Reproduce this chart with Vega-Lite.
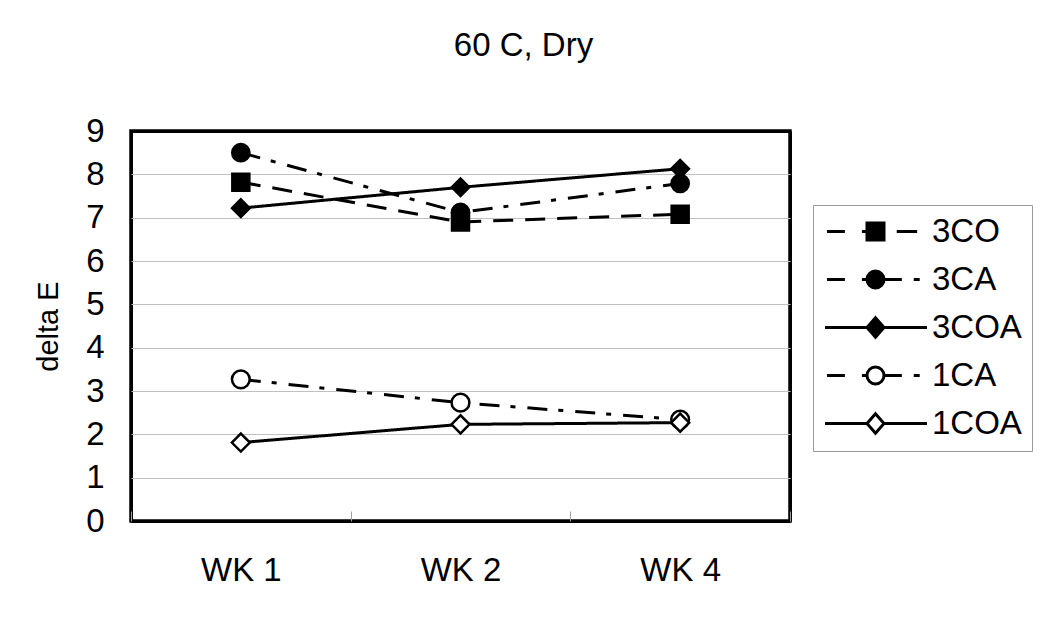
{
  "$schema": "https://vega.github.io/schema/vega-lite/v6.json",
  "width": 659,
  "height": 390,
  "autosize": {"type": "none"},
  "padding": {"left": 131, "top": 131, "right": 260, "bottom": 104},
  "background": "white",
  "title": {"text": "60 C, Dry", "fontSize": 33, "fontWeight": "normal", "color": "black", "anchor": "middle", "frame": "group", "dx": 63, "offset": 52},
  "data": {"values": [
    {"series": "3CO", "week": "WK 1", "value": 7.82},
    {"series": "3CO", "week": "WK 2", "value": 6.90},
    {"series": "3CO", "week": "WK 4", "value": 7.08},
    {"series": "3CA", "week": "WK 1", "value": 8.50},
    {"series": "3CA", "week": "WK 2", "value": 7.12},
    {"series": "3CA", "week": "WK 4", "value": 7.79},
    {"series": "3COA", "week": "WK 1", "value": 7.22},
    {"series": "3COA", "week": "WK 2", "value": 7.70},
    {"series": "3COA", "week": "WK 4", "value": 8.13},
    {"series": "1CA", "week": "WK 1", "value": 3.27},
    {"series": "1CA", "week": "WK 2", "value": 2.73},
    {"series": "1CA", "week": "WK 4", "value": 2.34},
    {"series": "1COA", "week": "WK 1", "value": 1.81},
    {"series": "1COA", "week": "WK 2", "value": 2.23},
    {"series": "1COA", "week": "WK 4", "value": 2.27}
  ]},
  "encoding": {
    "x": {
      "field": "week", "type": "nominal", "sort": ["WK 1", "WK 2", "WK 4"],
      "scale": {"type": "band", "paddingInner": 0, "paddingOuter": 0},
      "axis": {"title": null, "labelFontSize": 33, "labelColor": "black", "labelPadding": 43, "labelAngle": 0, "domain": false, "ticks": true, "tickBand": "extent", "tickSize": -10, "tickColor": "#a0a0a0", "tickWidth": 1,
        "grid": true,
        "gridColor": {"condition": {"test": "datum.value == 'WK 1' || datum.value == 'WK 2'", "value": "transparent"}, "value": "black"},
        "gridWidth": 3}
    },
    "y": {
      "field": "value", "type": "quantitative",
      "scale": {"domain": [0, 9], "nice": false},
      "axis": {"title": "delta E", "titleFontSize": 29, "titleFontWeight": "normal", "titleColor": "black", "titlePadding": 22, "labelFontSize": 33, "labelColor": "black", "labelPadding": 27, "ticks": false, "domain": false, "grid": true,
        "gridColor": {"condition": {"test": "datum.value == 0 || datum.value == 9", "value": "black"}, "value": "#c0c0c0"},
        "gridWidth": {"condition": {"test": "datum.value == 0 || datum.value == 9", "value": 3}, "value": 1},
        "values": [0, 1, 2, 3, 4, 5, 6, 7, 8, 9]}
    }
  },
  "layer": [
    {
      "mark": {"type": "line", "color": "black", "strokeWidth": 3},
      "encoding": {
        "strokeDash": {"field": "series", "type": "nominal", "legend": null,
          "scale": {"domain": ["3CO", "3CA", "3COA", "1CA", "1COA"], "range": [[20, 12], [20, 11, 5, 12], [1, 0], [20, 11, 5, 12], [1, 0]]}}
      }
    },
    {
      "mark": {"type": "point", "stroke": "black", "strokeWidth": 2.5, "opacity": 1, "fillOpacity": 1},
      "encoding": {
        "shape": {"field": "series", "type": "nominal", "legend": null,
          "scale": {"domain": ["3CO", "3CA", "3COA", "1CA", "1COA"], "range": ["square", "circle", "diamond", "circle", "diamond"]}},
        "fill": {"field": "series", "type": "nominal", "legend": null,
          "scale": {"domain": ["3CO", "3CA", "3COA", "1CA", "1COA"], "range": ["black", "black", "black", "white", "white"]}},
        "size": {"field": "series", "type": "nominal", "legend": null,
          "scale": {"domain": ["3CO", "3CA", "3COA", "1CA", "1COA"], "range": [289, 324, 324, 210, 210]}}
      }
    },
    {
      "mark": {"type": "point", "stroke": "black", "strokeWidth": 3, "opacity": 0, "size": 289},
      "encoding": {
        "shape": {"field": "series", "type": "nominal",
          "scale": {"domain": ["3CO", "3CA", "3COA", "1CA", "1COA"], "range": [
            "M-5.7,0H-3.6M-1.6,0H-1M-1,-1H1V1H-1ZM2.5,0H4.9",
            "M-5.7,0H-3.6M-1.6,0H-1M-1,0A1,1 0 1,1 1,0A1,1 0 1,1 -1,0ZM1,0H3.1M4.5,0H5.2",
            "M-5.94,0H-1M1,0H6.06M-1,0L0,-1.15L1,0L0,1.15Z",
            "M-5.7,0H-3.6M-1.6,0H-1M-1,0A1,1 0 1,1 1,0A1,1 0 1,1 -1,0ZM1,0H3.1M4.5,0H5.2",
            "M-5.94,0H-1M1,0H6.06M-1,0L0,-1.15L1,0L0,1.15Z"
          ]},
          "legend": {"title": null, "orient": "none", "legendX": 682, "legendY": 74,
            "encode": {"symbols": {"update": {"stroke": {"value": "black"}, "strokeWidth": {"value": 3}, "opacity": {"value": 1}}}}}
        },
        "fill": {"field": "series", "type": "nominal",
          "scale": {"domain": ["3CO", "3CA", "3COA", "1CA", "1COA"], "range": ["black", "black", "black", "white", "white"]},
          "legend": {"title": null, "orient": "none", "legendX": 682, "legendY": 74,
            "encode": {"symbols": {"update": {"stroke": {"value": "black"}, "strokeWidth": {"value": 3}, "opacity": {"value": 1}}}}}
        }
      }
    }
  ],
  "resolve": {
    "scale": {"shape": "independent", "fill": "independent"},
    "legend": {"shape": "independent", "fill": "independent"}
  },
  "config": {
    "font": "Liberation Sans",
    "view": {"stroke": "black", "strokeWidth": 3.5},
    "legend": {
      "padding": 10, "strokeColor": "#999999", "fillColor": "white",
      "labelFontSize": 33, "labelColor": "black", "labelLimit": 300,
      "symbolOffset": 36, "labelOffset": 40, "symbolSize": 289,
      "symbolStrokeWidth": 3, "symbolStrokeColor": "black", "symbolOpacity": 1,
      "rowPadding": 14
    }
  }
}
